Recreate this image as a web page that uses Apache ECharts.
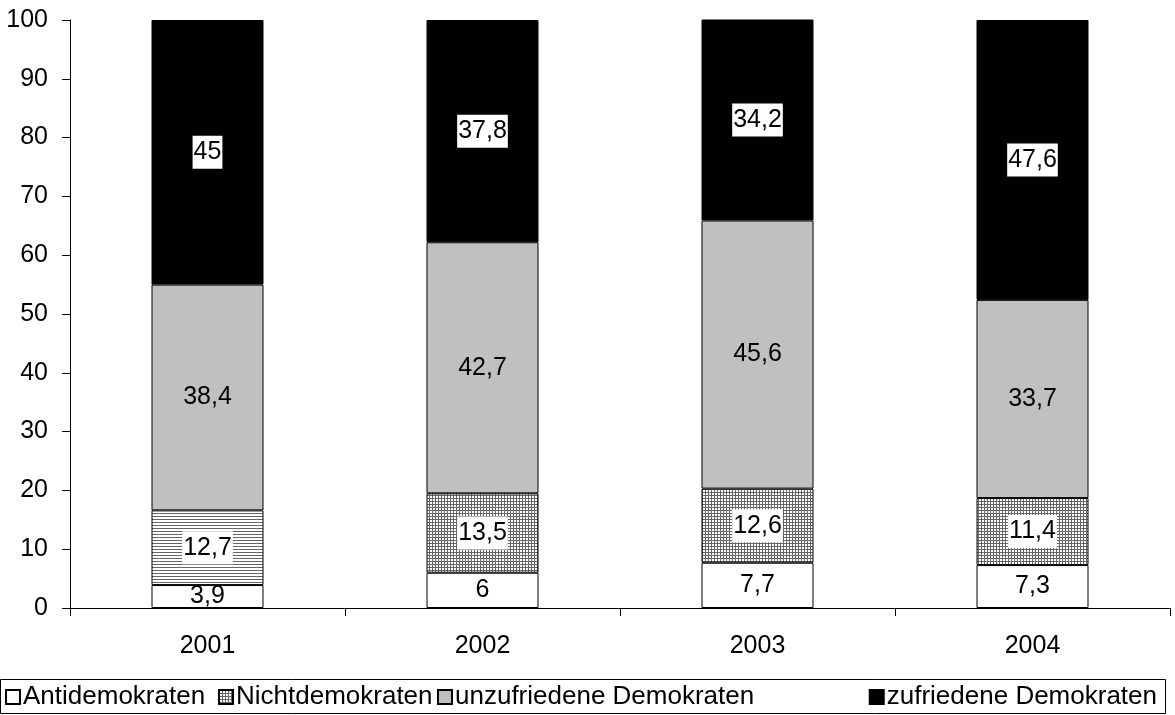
<!DOCTYPE html>
<html><head><meta charset="utf-8">
<script src="https://cdn.jsdelivr.net/npm/echarts@6/dist/echarts.min.js"></script>
<style>html,body{margin:0;padding:0;background:#fff}#c{width:1175px;height:715px}</style>
</head><body><div id="c"></div>
<script>
const years = ['2001', '2002', '2003', '2004'];
const antidemokraten = [3.9, 6, 7.7, 7.3];
const nichtdemokraten = [12.7, 13.5, 12.6, 11.4];
const unzufrieden = [38.4, 42.7, 45.6, 33.7];
const zufrieden = [45, 37.8, 34.2, 47.6];
const seriesNames = ['Antidemokraten', 'Nichtdemokraten', 'unzufriedene Demokraten', 'zufriedene Demokraten'];
const yTicks = [0, 10, 20, 30, 40, 50, 60, 70, 80, 90, 100];

function makePattern(grid) {
  const c = document.createElement('canvas');
  c.width = 3; c.height = 3;
  const ctx = c.getContext('2d');
  ctx.fillStyle = '#ffffff'; ctx.fillRect(0, 0, 3, 3);
  ctx.fillStyle = '#666666';
  ctx.fillRect(0, 0, 3, 1);
  if (grid) ctx.fillRect(0, 0, 1, 3);
  return { image: c, repeat: 'repeat' };
}
const gridPat = makePattern(true);
const linePat = makePattern(false);

const font = 'Liberation Sans, Arial, sans-serif';
const FS = 25;
const baseLabel = { show: true, position: 'inside', color: '#000', fontSize: FS, fontFamily: font, formatter: p => String(p.value).replace('.', ',') };
const boxLabel = Object.assign({ backgroundColor: '#fff', padding: [5, 1, 3, 1] }, baseLabel);
const border = { borderColor: '#000', borderWidth: 1 };

const legendBase = {
  top: 684, itemWidth: 14, itemHeight: 14, itemGap: 0, padding: 0,
  textStyle: { fontSize: 26, fontFamily: font, color: '#000', padding: [2, 0, 0, -2] }
};
const legendPos = [{ left: 5 }, { left: 218 }, { left: 437 }, { right: 18 }];
const legends = seriesNames.map((n, i) => Object.assign({}, legendBase, legendPos[i], { data: [{ name: n, icon: 'rect' }] }));

const chart = echarts.init(document.getElementById('c'));
chart.setOption({
  animation: false,
  backgroundColor: '#fff',
  grid: { left: 70, right: 5, top: 20, bottom: 107, containLabel: false },
  legend: legends,
  graphic: [{ type: 'rect', shape: { x: 0.5, y: 679.5, width: 1165, height: 34 },
    style: { fill: 'none', stroke: '#000', lineWidth: 1 }, silent: true }],
  xAxis: {
    type: 'category', data: years,
    axisLine: { lineStyle: { color: '#000' } },
    axisTick: { show: true, alignWithLabel: false, length: 8, lineStyle: { color: '#000' } },
    axisLabel: { fontSize: FS, fontFamily: font, color: '#000', margin: 26 }
  },
  yAxis: {
    type: 'value', min: 0, max: 100, interval: 10,
    axisLine: { show: true, lineStyle: { color: '#000' } },
    axisTick: { show: true, length: 8, lineStyle: { color: '#000' } },
    splitLine: { show: false },
    axisLabel: { fontSize: FS, fontFamily: font, color: '#000', margin: 22,
      formatter: v => yTicks.includes(v) ? String(v) : '' }
  },
  series: [
    { name: seriesNames[0], type: 'bar', stack: 's', barWidth: 112,
      itemStyle: Object.assign({ color: '#fff' }, border),
      label: Object.assign({}, baseLabel),
      data: antidemokraten },
    { name: seriesNames[1], type: 'bar', stack: 's',
      itemStyle: Object.assign({ color: gridPat }, border),
      label: boxLabel,
      data: nichtdemokraten.map((v, i) => i === 0 ? { value: v, itemStyle: { color: linePat } } : v) },
    { name: seriesNames[2], type: 'bar', stack: 's',
      itemStyle: Object.assign({ color: '#c0c0c0' }, border),
      label: Object.assign({}, baseLabel),
      data: unzufrieden },
    { name: seriesNames[3], type: 'bar', stack: 's',
      itemStyle: Object.assign({ color: '#000' }, border),
      label: boxLabel,
      data: zufrieden }
  ]
});
</script></body></html>
